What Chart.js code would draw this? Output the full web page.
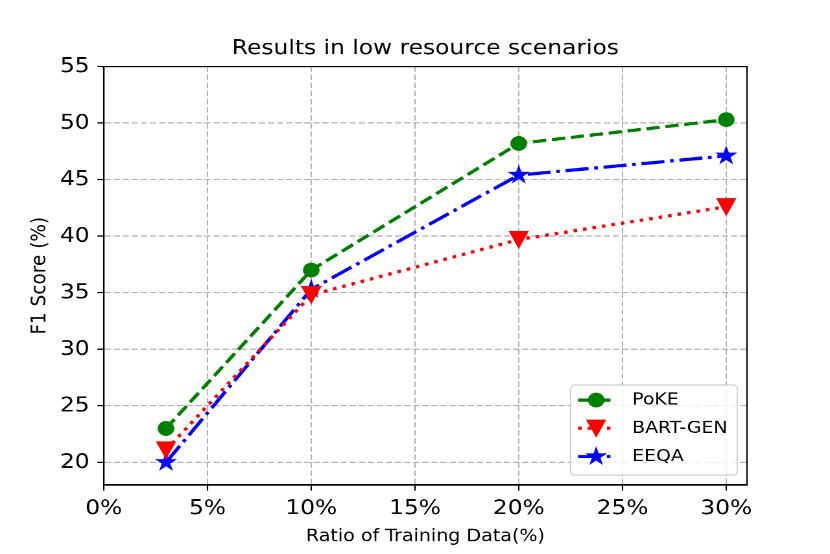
<!DOCTYPE html>
<html>
<head>
<meta charset="utf-8">
<script src="https://cdn.jsdelivr.net/npm/chart.js@4.4.0/dist/chart.umd.min.js"></script>
<style>
  html, body { margin: 0; padding: 0; background: #fff; }
  body { width: 830px; height: 554px; }
  /* the figure is drawn at 640x480 and stretched to the 830x554 window */
  #wrap { width: 640px; height: 480px; transform-origin: 0 0; transform: scale(1.296875, 1.1541667); }
</style>
</head>
<body>
<div id="wrap"><canvas id="chart" width="640" height="480"></canvas></div>
<script>
var ratios = [3, 10, 20, 30];
var pokeScores = [23.0, 37.0, 48.2, 50.3];
var bartGenScores = [21.1, 34.8, 39.7, 42.6];
var eeqaScores = [20.0, 35.3, 45.4, 47.1];
var xTicks = [0, 5, 10, 15, 20, 25, 30];
var yTicks = [20, 25, 30, 35, 40, 45, 50, 55];
var seriesNames = ['PoKE', 'BART-GEN', 'EEQA'];

var FONT = 'DejaVu Sans';
var LW = 2.8;

function toPoints(values) {
    return ratios.map(function(r, i) { return {x: r, y: values[i]}; });
}

// matplotlib style markers: 'o', 'v', '*'
function drawMarker(ctx, kind, x, y, color) {
    ctx.save();
    ctx.fillStyle = color;
    ctx.strokeStyle = color;
    ctx.lineWidth = 1.2;
    ctx.setLineDash([]);
    ctx.beginPath();
    if (kind == 'o') {
        ctx.arc(x, y, 5.8, 0, Math.PI * 2);
    } else if (kind == 'v') {
        var h = 6.9;
        ctx.moveTo(x, y + h);
        ctx.lineTo(x - h, y - h);
        ctx.lineTo(x + h, y - h);
        ctx.closePath();
    } else if (kind == '*') {
        var R = 7.1, r = R * 0.381966;
        for (var k = 0; k < 10; k++) {
            var rad = (k % 2 == 0) ? R : r;
            var a = -Math.PI / 2 + k * Math.PI / 5;
            var px = x + rad * Math.cos(a), py = y + rad * Math.sin(a);
            if (k == 0) ctx.moveTo(px, py); else ctx.lineTo(px, py);
        }
        ctx.closePath();
    }
    ctx.fill();
    ctx.stroke();
    ctx.restore();
}

var markerPlugin = {
    id: 'markers',
    afterDatasetDraw: function(chart, args) {
        var ds = chart.data.datasets[args.index];
        var ctx = chart.ctx;
        args.meta.data.forEach(function(pt) {
            drawMarker(ctx, ds.marker, pt.x, pt.y, ds.borderColor);
        });
    }
};

var framePlugin = {
    id: 'frame',
    afterDraw: function(chart) {
        var ctx = chart.ctx, a = chart.chartArea;
        ctx.save();
        ctx.strokeStyle = '#000';
        ctx.lineWidth = 1.1;
        ctx.strokeRect(a.left, a.top, a.right - a.left, a.bottom - a.top);

        // legend, lower right
        var bx = 440, by = 333.6, bw = 128.5, bh = 78, rr = 2.8;
        ctx.beginPath();
        ctx.roundRect(bx, by, bw, bh, rr);
        ctx.fillStyle = 'rgba(255,255,255,0.8)';
        ctx.fill();
        ctx.strokeStyle = '#cccccc';
        ctx.lineWidth = 1;
        ctx.stroke();

        var rows = [346.6, 371.0, 395.6];
        chart.data.datasets.forEach(function(ds, i) {
            var y = rows[i];
            ctx.beginPath();
            ctx.strokeStyle = ds.borderColor;
            ctx.lineWidth = LW;
            ctx.lineCap = 'butt';
            ctx.setLineDash(ds.borderDash);
            ctx.moveTo(445.7, y);
            ctx.lineTo(473.7, y);
            ctx.stroke();
            drawMarker(ctx, ds.marker, 459.7, y, ds.borderColor);
            ctx.fillStyle = '#000';
            ctx.font = '14.5px "' + FONT + '"';
            ctx.textBaseline = 'middle';
            ctx.textAlign = 'left';
            ctx.fillText(ds.label, 487.5, y);
        });
        ctx.restore();
    }
};

function gridOpts() {
    return {
        color: '#b0b0b0',
        lineWidth: 1,
        tickColor: '#000',
        tickWidth: 1.1,
        tickLength: 4.9,
        tickBorderDash: [],
        drawTicks: true
    };
}

// in Chart.js v4 border.dash is the dash of the grid lines
function borderOpts() {
    return { display: true, color: '#000', width: 1.1, dash: [4.8, 2.2] };
}

new Chart(document.getElementById('chart'), {
    type: 'line',
    data: {
        datasets: [{
            label: seriesNames[0],
            data: toPoints(pokeScores),
            borderColor: '#008000',
            borderDash: [10.3, 4.4],
            marker: 'o'
        }, {
            label: seriesNames[1],
            data: toPoints(bartGenScores),
            borderColor: '#ff0000',
            borderDash: [2.8, 4.6],
            marker: 'v'
        }, {
            label: seriesNames[2],
            data: toPoints(eeqaScores),
            borderColor: '#0000ff',
            borderDash: [17.8, 4.4, 2.8, 4.4],
            marker: '*'
        }]
    },
    options: {
        responsive: false,
        animation: false,
        devicePixelRatio: 2,
        layout: { padding: { left: 0, right: 64, top: 0, bottom: 0 } },
        elements: {
            line: { borderWidth: LW, tension: 0, borderCapStyle: 'butt', fill: false },
            point: { radius: 0, hoverRadius: 0 }
        },
        plugins: {
            legend: { display: false },
            tooltip: { enabled: false },
            title: {
                display: true,
                fullSize: false,
                text: 'Results in low resource scenarios',
                color: '#000',
                font: { family: FONT, size: 18, weight: 'normal', lineHeight: 1.2 },
                padding: { top: 31.6, bottom: 4.4 }
            }
        },
        scales: {
            x: {
                type: 'linear',
                min: 0,
                max: 31,
                afterFit: function(s) { s.height = 59.8; },
                afterBuildTicks: function(s) { s.ticks = xTicks.map(function(v) { return {value: v}; }); },
                grid: gridOpts(),
                border: borderOpts(),
                ticks: {
                    color: '#000',
                    padding: 5,
                    maxRotation: 0,
                    autoSkip: false,
                    font: { family: FONT, size: 18, lineHeight: 1.2 },
                    callback: function(v) { return v + '%'; }
                },
                title: {
                    display: true,
                    text: 'Ratio of Training Data(%)',
                    color: '#000',
                    font: { family: FONT, size: 14.7, lineHeight: 1.2 },
                    padding: { top: 0, bottom: 6.0 }
                }
            },
            y: {
                type: 'linear',
                min: 18,
                max: 55,
                afterFit: function(s) { s.width = 80; },
                afterBuildTicks: function(s) { s.ticks = yTicks.map(function(v) { return {value: v}; }); },
                grid: gridOpts(),
                border: borderOpts(),
                ticks: {
                    color: '#000',
                    padding: 6,
                    autoSkip: false,
                    font: { family: FONT, size: 18, lineHeight: 1.2 }
                },
                title: {
                    display: true,
                    text: 'F1 Score (%)',
                    color: '#000',
                    font: { family: FONT, size: 16, lineHeight: 1.2 },
                    padding: { top: 21.2, bottom: 0 }
                }
            }
        }
    },
    plugins: [markerPlugin, framePlugin]
});
</script>
</body>
</html>
